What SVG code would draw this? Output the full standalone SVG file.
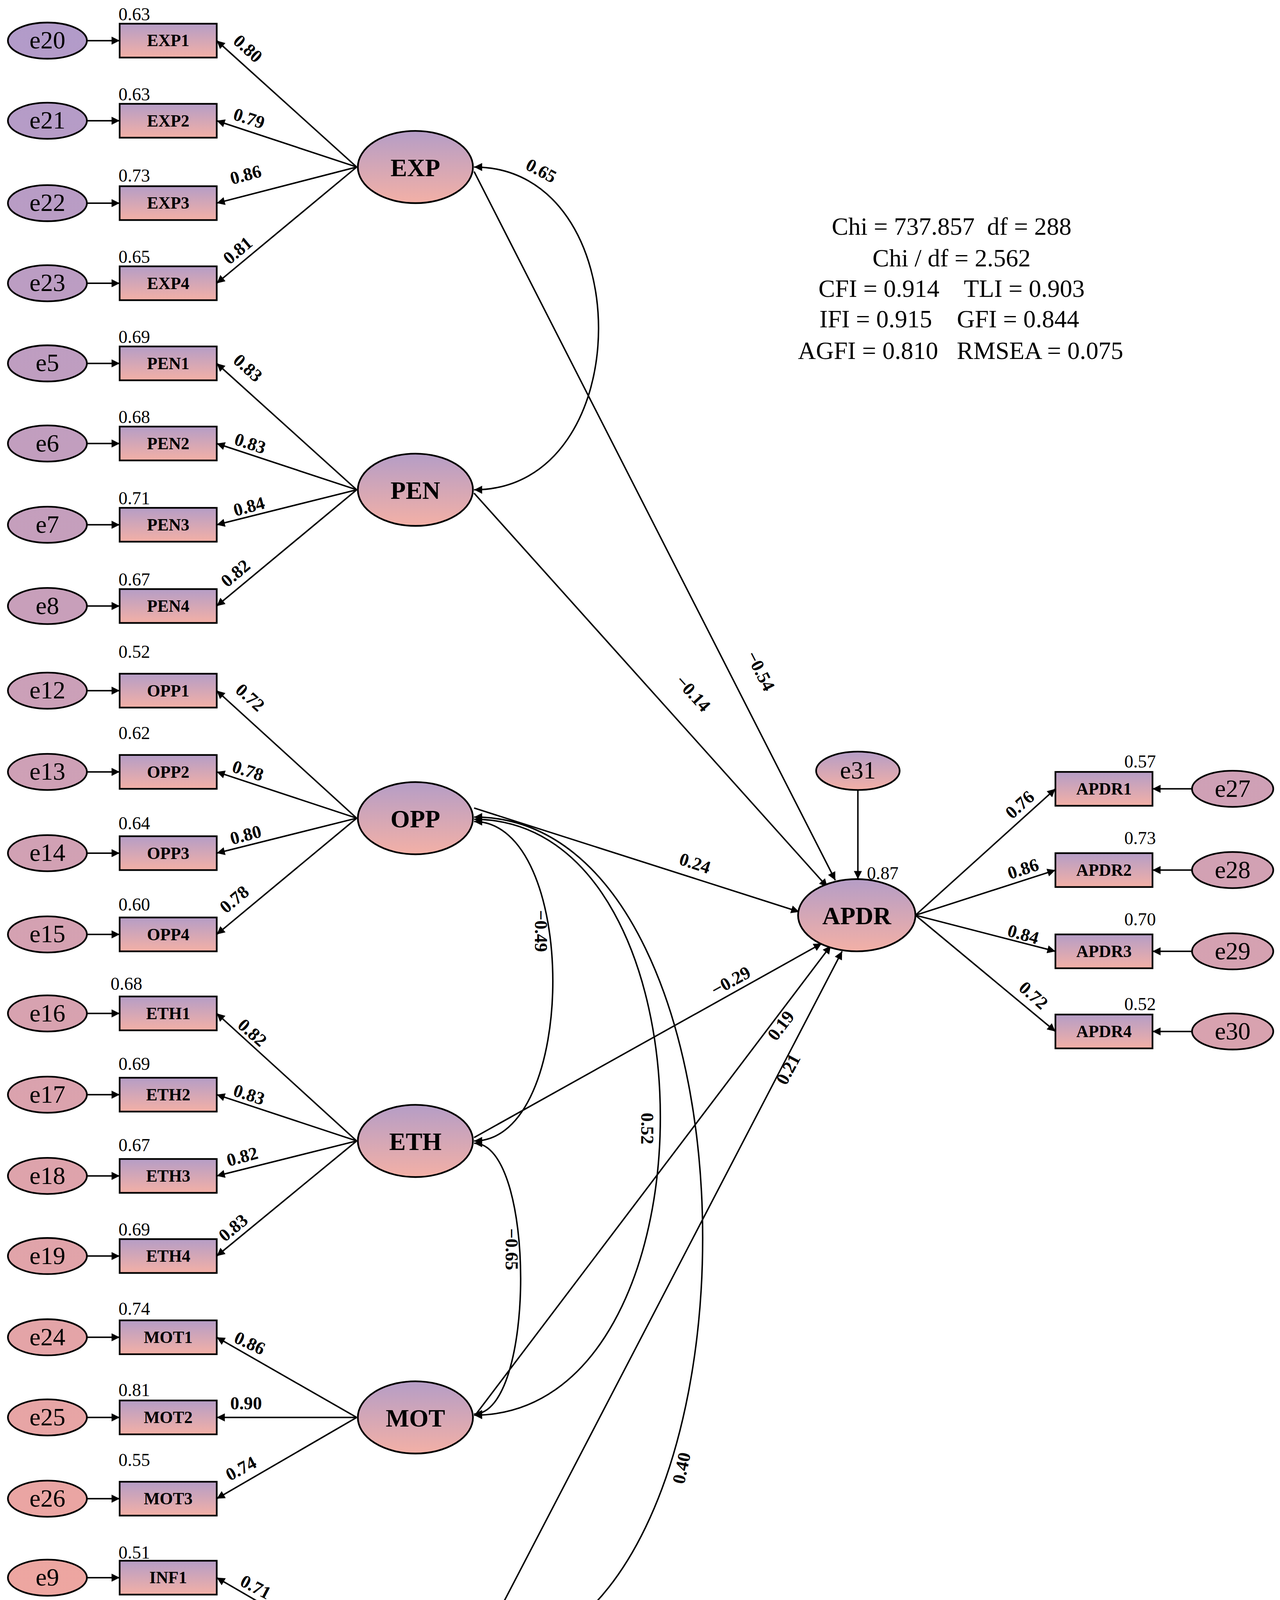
<svg xmlns="http://www.w3.org/2000/svg" width="3276" height="4526" viewBox="0 0 3276 4526">
<defs>
<linearGradient id="g" x1="0" y1="0" x2="0" y2="1"><stop offset="0" stop-color="#b59dc6"/><stop offset="1" stop-color="#f3b0a6"/></linearGradient>
<linearGradient id="ge" gradientUnits="userSpaceOnUse" x1="0" y1="0" x2="0" y2="1563"><stop offset="0" stop-color="#b19bca"/><stop offset="1" stop-color="#f4a79c"/></linearGradient>
<marker id="a" viewBox="0 0 10 10" refX="10" refY="5" markerWidth="7" markerHeight="5.5" orient="auto-start-reverse" markerUnits="strokeWidth"><path d="M0,0L10,5L0,10z" fill="#000"/></marker>
</defs>
<style>
.n{stroke:#000;stroke-width:1.5;fill:url(#g)}
.e{stroke:#000;stroke-width:1.5;fill:url(#ge)}
text{font-family:"Liberation Serif",serif;fill:#000}
.lt{font-size:22px;font-weight:bold;text-anchor:middle}
.et{font-size:22px;text-anchor:middle}
.bt{font-size:15px;text-anchor:middle;font-weight:bold}
.v{font-size:16px}
.l{font-size:16px;font-weight:bold;text-anchor:middle}
.c path,.c line{stroke:#000;stroke-width:1.3;fill:none;marker-end:url(#a)}
.c .d{marker-start:url(#a)}
.f{font-size:22px;text-anchor:middle;white-space:pre}
</style>
<rect width="3276" height="4526" fill="#fff"/>
<g transform="scale(2.889)">
<g class="c" id="connectors">
<line x1="77" y1="36" x2="106" y2="36"/><line x1="77" y1="107" x2="106" y2="107"/><line x1="77" y1="180" x2="106" y2="180"/><line x1="77" y1="251" x2="106" y2="251"/>
<line x1="77" y1="322" x2="106" y2="322"/><line x1="77" y1="393" x2="106" y2="393"/><line x1="77" y1="465" x2="106" y2="465"/><line x1="77" y1="537" x2="106" y2="537"/>
<line x1="77" y1="612" x2="106" y2="612"/><line x1="77" y1="684" x2="106" y2="684"/><line x1="77" y1="756" x2="106" y2="756"/><line x1="77" y1="828" x2="106" y2="828"/>
<line x1="77" y1="898" x2="106" y2="898"/><line x1="77" y1="970" x2="106" y2="970"/><line x1="77" y1="1042" x2="106" y2="1042"/><line x1="77" y1="1113" x2="106" y2="1113"/>
<line x1="77" y1="1185" x2="106" y2="1185"/><line x1="77" y1="1256" x2="106" y2="1256"/><line x1="77" y1="1328" x2="106" y2="1328"/>
<line x1="77" y1="1398" x2="106" y2="1398"/><line x1="77" y1="1470" x2="106" y2="1470"/><line x1="77" y1="1541" x2="106" y2="1541"/>
<line x1="316" y1="148" x2="192" y2="36"/><line x1="316" y1="148" x2="192" y2="107"/><line x1="316" y1="148" x2="192" y2="180"/><line x1="316" y1="148" x2="192" y2="251"/>
<line x1="316" y1="434" x2="192" y2="322"/><line x1="316" y1="434" x2="192" y2="393"/><line x1="316" y1="434" x2="192" y2="465"/><line x1="316" y1="434" x2="192" y2="537"/>
<line x1="316" y1="725" x2="192" y2="612"/><line x1="316" y1="725" x2="192" y2="684"/><line x1="316" y1="725" x2="192" y2="756"/><line x1="316" y1="725" x2="192" y2="828"/>
<line x1="316" y1="1011" x2="192" y2="898"/><line x1="316" y1="1011" x2="192" y2="970"/><line x1="316" y1="1011" x2="192" y2="1042"/><line x1="316" y1="1011" x2="192" y2="1113"/>
<line x1="316" y1="1256" x2="192" y2="1185"/><line x1="316" y1="1256" x2="192" y2="1256"/><line x1="316" y1="1256" x2="192" y2="1328"/>
<line x1="316" y1="1470" x2="192" y2="1398"/><line x1="316" y1="1470" x2="192" y2="1470"/><line x1="316" y1="1470" x2="192" y2="1541"/>
<line x1="811" y1="811" x2="935" y2="699"/><line x1="811" y1="811" x2="935" y2="771"/><line x1="811" y1="811" x2="935" y2="843"/><line x1="811" y1="811" x2="935" y2="914"/>
<line x1="1056" y1="699" x2="1021" y2="699"/><line x1="1056" y1="771" x2="1021" y2="771"/><line x1="1056" y1="843" x2="1021" y2="843"/><line x1="1056" y1="914" x2="1021" y2="914"/>
<line x1="760" y1="700" x2="760" y2="779"/>
<line x1="420" y1="152" x2="740" y2="780"/>
<line x1="420" y1="437" x2="733" y2="786"/>
<line x1="420" y1="716" x2="708" y2="808"/>
<line x1="420" y1="1008" x2="728" y2="836"/>
<line x1="421" y1="1254" x2="736" y2="838"/>
<line x1="420" y1="1470" x2="746" y2="843"/>
<path class="d" d="M420,148 C567,148 567,434 420,434"/>
<path class="d" d="M420,728 C513,728 513,1011 420,1011"/>
<path class="d" d="M420,1013 C475,1013 475,1253 420,1253"/>
<path class="d" d="M420,726 C640,726 640,1254 420,1254"/>
<path class="d" d="M420,724 C690,724 690,1470 420,1470"/>
</g>
<g id="labels">
<text class="l" transform="translate(216,47) rotate(42)">0.80</text>
<text class="l" transform="translate(219,110) rotate(18)">0.79</text>
<text class="l" transform="translate(219,160) rotate(-15)">0.86</text>
<text class="l" transform="translate(214,226) rotate(-40)">0.81</text>
<text class="l" transform="translate(216,330) rotate(42)">0.83</text>
<text class="l" transform="translate(220,398) rotate(18)">0.83</text>
<text class="l" transform="translate(222,454) rotate(-15)">0.84</text>
<text class="l" transform="translate(212,512) rotate(-40)">0.82</text>
<text class="l" transform="translate(218,622) rotate(42)">0.72</text>
<text class="l" transform="translate(218,688) rotate(18)">0.78</text>
<text class="l" transform="translate(219,745) rotate(-15)">0.80</text>
<text class="l" transform="translate(211,801) rotate(-40)">0.78</text>
<text class="l" transform="translate(220,919) rotate(42)">0.82</text>
<text class="l" transform="translate(219,975) rotate(18)">0.83</text>
<text class="l" transform="translate(216,1030) rotate(-15)">0.82</text>
<text class="l" transform="translate(210,1092) rotate(-40)">0.83</text>
<text class="l" transform="translate(219,1195) rotate(25)">0.86</text>
<text class="l" transform="translate(218,1249)">0.90</text>
<text class="l" transform="translate(216,1306) rotate(-28)">0.74</text>
<text class="l" transform="translate(224,1411) rotate(28)">0.71</text>
<text class="l" transform="translate(219,1467)">0.72</text>
<text class="l" transform="translate(216,1520) rotate(-28)">0.72</text>
<text class="l" transform="translate(907,717) rotate(-42)">0.76</text>
<text class="l" transform="translate(908,775) rotate(-18)">0.86</text>
<text class="l" transform="translate(905,833) rotate(16)">0.84</text>
<text class="l" transform="translate(912,886) rotate(42)">0.72</text>
<text class="l" transform="translate(669,597) rotate(63)">−0.54</text>
<text class="l" transform="translate(610,618) rotate(48)">−0.14</text>
<text class="l" transform="translate(614,770) rotate(18)">0.24</text>
<text class="l" transform="translate(650,874) rotate(-29)">−0.29</text>
<text class="l" transform="translate(696,912) rotate(-53)">0.19</text>
<text class="l" transform="translate(703,950) rotate(-62)">0.21</text>
<text class="l" transform="translate(477,156) rotate(28)">0.65</text>
<text class="l" transform="translate(474,825) rotate(90)">−0.49</text>
<text class="l" transform="translate(448,1107) rotate(90)">−0.65</text>
<text class="l" transform="translate(568,1000) rotate(90)">0.52</text>
<text class="l" transform="translate(609,1302) rotate(-78)">0.40</text>
<g class="v">
<text x="105" y="18">0.63</text><text x="105" y="89">0.63</text><text x="105" y="161">0.73</text><text x="105" y="233">0.65</text>
<text x="105" y="304">0.69</text><text x="105" y="375">0.68</text><text x="105" y="447">0.71</text><text x="105" y="519">0.67</text>
<text x="105" y="583">0.52</text><text x="105" y="655">0.62</text><text x="105" y="735">0.64</text><text x="105" y="807">0.60</text>
<text x="98" y="877">0.68</text><text x="105" y="948">0.69</text><text x="105" y="1020">0.67</text><text x="105" y="1095">0.69</text>
<text x="105" y="1165">0.74</text><text x="105" y="1237">0.81</text><text x="105" y="1299">0.55</text>
<text x="105" y="1381">0.51</text><text x="105" y="1453">0.51</text><text x="105" y="1520">0.51</text>
<text x="1024" y="680" text-anchor="end">0.57</text><text x="1024" y="748" text-anchor="end">0.73</text><text x="1024" y="820" text-anchor="end">0.70</text><text x="1024" y="895" text-anchor="end">0.52</text>
<text x="768" y="779">0.87</text>
</g>
</g>
<g id="fit">
<text class="f" x="843" y="208">Chi = 737.857  df = 288</text>
<text class="f" x="843" y="236">Chi / df = 2.562</text>
<text class="f" x="843" y="263">CFI = 0.914    TLI = 0.903</text>
<text class="f" x="841" y="290">IFI = 0.915    GFI = 0.844</text>
<text class="f" x="851" y="318">AGFI = 0.810   RMSEA = 0.075</text>
</g>
<g id="e20"><ellipse class="e" cx="42" cy="36" rx="35" ry="16"/><text class="et" x="42" y="43">e20</text></g>
<g id="e21"><ellipse class="e" cx="42" cy="107" rx="35" ry="16"/><text class="et" x="42" y="114">e21</text></g>
<g id="e22"><ellipse class="e" cx="42" cy="180" rx="35" ry="16"/><text class="et" x="42" y="187">e22</text></g>
<g id="e23"><ellipse class="e" cx="42" cy="251" rx="35" ry="16"/><text class="et" x="42" y="258">e23</text></g>
<g id="e5"><ellipse class="e" cx="42" cy="322" rx="35" ry="16"/><text class="et" x="42" y="329">e5</text></g>
<g id="e6"><ellipse class="e" cx="42" cy="393" rx="35" ry="16"/><text class="et" x="42" y="400">e6</text></g>
<g id="e7"><ellipse class="e" cx="42" cy="465" rx="35" ry="16"/><text class="et" x="42" y="472">e7</text></g>
<g id="e8"><ellipse class="e" cx="42" cy="537" rx="35" ry="16"/><text class="et" x="42" y="544">e8</text></g>
<g id="e12"><ellipse class="e" cx="42" cy="612" rx="35" ry="16"/><text class="et" x="42" y="619">e12</text></g>
<g id="e13"><ellipse class="e" cx="42" cy="684" rx="35" ry="16"/><text class="et" x="42" y="691">e13</text></g>
<g id="e14"><ellipse class="e" cx="42" cy="756" rx="35" ry="16"/><text class="et" x="42" y="763">e14</text></g>
<g id="e15"><ellipse class="e" cx="42" cy="828" rx="35" ry="16"/><text class="et" x="42" y="835">e15</text></g>
<g id="e16"><ellipse class="e" cx="42" cy="898" rx="35" ry="16"/><text class="et" x="42" y="905">e16</text></g>
<g id="e17"><ellipse class="e" cx="42" cy="970" rx="35" ry="16"/><text class="et" x="42" y="977">e17</text></g>
<g id="e18"><ellipse class="e" cx="42" cy="1042" rx="35" ry="16"/><text class="et" x="42" y="1049">e18</text></g>
<g id="e19"><ellipse class="e" cx="42" cy="1113" rx="35" ry="16"/><text class="et" x="42" y="1120">e19</text></g>
<g id="e24"><ellipse class="e" cx="42" cy="1185" rx="35" ry="16"/><text class="et" x="42" y="1192">e24</text></g>
<g id="e25"><ellipse class="e" cx="42" cy="1256" rx="35" ry="16"/><text class="et" x="42" y="1263">e25</text></g>
<g id="e26"><ellipse class="e" cx="42" cy="1328" rx="35" ry="16"/><text class="et" x="42" y="1335">e26</text></g>
<g id="e9"><ellipse class="e" cx="42" cy="1398" rx="35" ry="16"/><text class="et" x="42" y="1405">e9</text></g>
<g id="e10"><ellipse class="e" cx="42" cy="1470" rx="35" ry="16"/><text class="et" x="42" y="1477">e10</text></g>
<g id="e11"><ellipse class="e" cx="42" cy="1541" rx="35" ry="16"/><text class="et" x="42" y="1548">e11</text></g>
<g id="EXP1"><rect class="n" x="106" y="21" width="86" height="30"/><text class="bt" x="149" y="41">EXP1</text></g>
<g id="EXP2"><rect class="n" x="106" y="92" width="86" height="30"/><text class="bt" x="149" y="112">EXP2</text></g>
<g id="EXP3"><rect class="n" x="106" y="165" width="86" height="30"/><text class="bt" x="149" y="185">EXP3</text></g>
<g id="EXP4"><rect class="n" x="106" y="236" width="86" height="30"/><text class="bt" x="149" y="256">EXP4</text></g>
<g id="PEN1"><rect class="n" x="106" y="307" width="86" height="30"/><text class="bt" x="149" y="327">PEN1</text></g>
<g id="PEN2"><rect class="n" x="106" y="378" width="86" height="30"/><text class="bt" x="149" y="398">PEN2</text></g>
<g id="PEN3"><rect class="n" x="106" y="450" width="86" height="30"/><text class="bt" x="149" y="470">PEN3</text></g>
<g id="PEN4"><rect class="n" x="106" y="522" width="86" height="30"/><text class="bt" x="149" y="542">PEN4</text></g>
<g id="OPP1"><rect class="n" x="106" y="597" width="86" height="30"/><text class="bt" x="149" y="617">OPP1</text></g>
<g id="OPP2"><rect class="n" x="106" y="669" width="86" height="30"/><text class="bt" x="149" y="689">OPP2</text></g>
<g id="OPP3"><rect class="n" x="106" y="741" width="86" height="30"/><text class="bt" x="149" y="761">OPP3</text></g>
<g id="OPP4"><rect class="n" x="106" y="813" width="86" height="30"/><text class="bt" x="149" y="833">OPP4</text></g>
<g id="ETH1"><rect class="n" x="106" y="883" width="86" height="30"/><text class="bt" x="149" y="903">ETH1</text></g>
<g id="ETH2"><rect class="n" x="106" y="955" width="86" height="30"/><text class="bt" x="149" y="975">ETH2</text></g>
<g id="ETH3"><rect class="n" x="106" y="1027" width="86" height="30"/><text class="bt" x="149" y="1047">ETH3</text></g>
<g id="ETH4"><rect class="n" x="106" y="1098" width="86" height="30"/><text class="bt" x="149" y="1118">ETH4</text></g>
<g id="MOT1"><rect class="n" x="106" y="1170" width="86" height="30"/><text class="bt" x="149" y="1190">MOT1</text></g>
<g id="MOT2"><rect class="n" x="106" y="1241" width="86" height="30"/><text class="bt" x="149" y="1261">MOT2</text></g>
<g id="MOT3"><rect class="n" x="106" y="1313" width="86" height="30"/><text class="bt" x="149" y="1333">MOT3</text></g>
<g id="INF1"><rect class="n" x="106" y="1383" width="86" height="30"/><text class="bt" x="149" y="1403">INF1</text></g>
<g id="INF2"><rect class="n" x="106" y="1455" width="86" height="30"/><text class="bt" x="149" y="1475">INF2</text></g>
<g id="INF3"><rect class="n" x="106" y="1526" width="86" height="30"/><text class="bt" x="149" y="1546">INF3</text></g>
<g id="EXP"><ellipse class="n" cx="368" cy="148" rx="51" ry="32"/><text class="lt" x="368" y="156">EXP</text></g>
<g id="PEN"><ellipse class="n" cx="368" cy="434" rx="51" ry="32"/><text class="lt" x="368" y="442">PEN</text></g>
<g id="OPP"><ellipse class="n" cx="368" cy="725" rx="51" ry="32"/><text class="lt" x="368" y="733">OPP</text></g>
<g id="ETH"><ellipse class="n" cx="368" cy="1011" rx="51" ry="32"/><text class="lt" x="368" y="1019">ETH</text></g>
<g id="MOT"><ellipse class="n" cx="368" cy="1256" rx="51" ry="32"/><text class="lt" x="368" y="1264">MOT</text></g>
<g id="INF"><ellipse class="n" cx="368" cy="1470" rx="51" ry="32"/><text class="lt" x="368" y="1478">INF</text></g>
<g id="APDR"><ellipse class="n" cx="759" cy="811" rx="52" ry="32"/><text class="lt" x="759" y="819">APDR</text></g>
<g id="e31"><ellipse class="n" cx="760" cy="683" rx="37" ry="17"/><text class="et" x="760" y="690">e31</text></g>
<g id="APDR1"><rect class="n" x="935" y="684" width="86" height="30"/><text class="bt" x="978" y="704">APDR1</text></g>
<g id="APDR2"><rect class="n" x="935" y="756" width="86" height="30"/><text class="bt" x="978" y="776">APDR2</text></g>
<g id="APDR3"><rect class="n" x="935" y="828" width="86" height="30"/><text class="bt" x="978" y="848">APDR3</text></g>
<g id="APDR4"><rect class="n" x="935" y="899" width="86" height="30"/><text class="bt" x="978" y="919">APDR4</text></g>
<g id="e27"><ellipse class="e" cx="1092" cy="699" rx="36" ry="16"/><text class="et" x="1092" y="706">e27</text></g>
<g id="e28"><ellipse class="e" cx="1092" cy="771" rx="36" ry="16"/><text class="et" x="1092" y="778">e28</text></g>
<g id="e29"><ellipse class="e" cx="1092" cy="843" rx="36" ry="16"/><text class="et" x="1092" y="850">e29</text></g>
<g id="e30"><ellipse class="e" cx="1092" cy="914" rx="36" ry="16"/><text class="et" x="1092" y="921">e30</text></g>
</g>
</svg>
